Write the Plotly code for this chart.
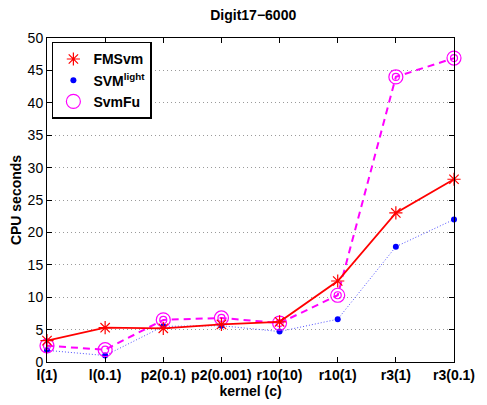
import plotly.graph_objects as go

kernels = ["l(1)", "l(0.1)", "p2(0.1)", "p2(0.001)", "r10(10)", "r10(1)", "r3(1)", "r3(0.1)"]
fmsvm = [3.3, 5.3, 5.2, 5.8, 6.2, 12.5, 23.0, 28.2]
svmlight = [1.8, 1.0, 5.5, 5.6, 4.7, 6.6, 17.8, 22.0]
svmfu = [2.5, 1.9, 6.5, 6.8, 6.0, 10.3, 44.0, 46.9]

fig = go.Figure()

fig.add_trace(go.Scatter(x=kernels, y=svmlight, mode="lines+markers",
                         line=dict(color="#5050ff", width=1, dash="1px,2px"),
                         marker=dict(symbol="circle", size=6, color="blue"),
                         showlegend=False, cliponaxis=False))
fig.add_trace(go.Scatter(x=kernels, y=svmfu, mode="lines+markers",
                         line=dict(color="magenta", width=2, dash="7px,5px"),
                         marker=dict(symbol="circle-open", size=7, color="magenta", line=dict(width=1.2)),
                         showlegend=False, cliponaxis=False))
fig.add_trace(go.Scatter(x=kernels, y=svmfu, mode="markers",
                         marker=dict(symbol="circle-open", size=14, color="magenta", line=dict(width=1.2)),
                         showlegend=False, cliponaxis=False))
fig.add_trace(go.Scatter(x=kernels, y=fmsvm, mode="lines+markers",
                         line=dict(color="red", width=1.8),
                         marker=dict(symbol="asterisk-open", size=11, color="red", line=dict(width=1.2, color="red")),
                         showlegend=False, cliponaxis=False))

fig.add_trace(go.Scatter(x=[None], y=[None], mode="markers", name="<b>FMSvm</b>",
                         marker=dict(symbol="asterisk-open", size=11, color="red", line=dict(width=1.2, color="red"))))
fig.add_trace(go.Scatter(x=[None], y=[None], mode="markers", name="<b>SVM<sup>light</sup></b>",
                         marker=dict(symbol="circle", size=6, color="blue")))
fig.add_trace(go.Scatter(x=[None], y=[None], mode="markers", name="<b>SvmFu</b>",
                         marker=dict(symbol="circle-open", size=14, color="magenta", line=dict(width=1.2))))

font = "Liberation Sans, Arial, sans-serif"
fig.update_layout(
    width=487, height=405,
    margin=dict(l=47, r=25, t=38, b=41),
    paper_bgcolor="white", plot_bgcolor="white",
    font=dict(family=font, size=14, color="black"),
    title=dict(text="<b>Digit17\u22126000</b>", x=0.52, xanchor="center", y=0.963, yanchor="middle",
               font=dict(size=14)),
    legend=dict(x=0.012, y=0.988, xanchor="left", yanchor="top",
                bgcolor="white", bordercolor="black", borderwidth=1.5,
                font=dict(size=14), tracegroupgap=0, itemwidth=30),
    showlegend=True,
)
fig.update_xaxes(type="category", categoryorder="array", categoryarray=kernels,
                 range=[0, 7], showgrid=False, zeroline=False,
                 showline=True, linecolor="black", linewidth=1, mirror="ticks",
                 ticks="inside", ticklen=5, tickcolor="black",
                 tickfont=dict(size=14, family=font),
                 tickprefix="<b>", ticksuffix="</b>",
                 title=dict(text="<b>kernel (c)</b>", standoff=0, font=dict(size=14)))
fig.update_yaxes(range=[0, 50], tickvals=list(range(0, 51, 5)),
                 showgrid=True, gridcolor="#9a9a9a", griddash="1px,3px", gridwidth=1,
                 zeroline=False, showline=True, linecolor="black", linewidth=1, mirror="ticks",
                 ticks="inside", ticklen=5, tickcolor="black",
                 tickfont=dict(size=14, family=font),
                 tickprefix="<b>", ticksuffix="</b>",
                 title=dict(text="<b>CPU seconds</b>", standoff=2, font=dict(size=14)))

fig.write_html("out.html")
